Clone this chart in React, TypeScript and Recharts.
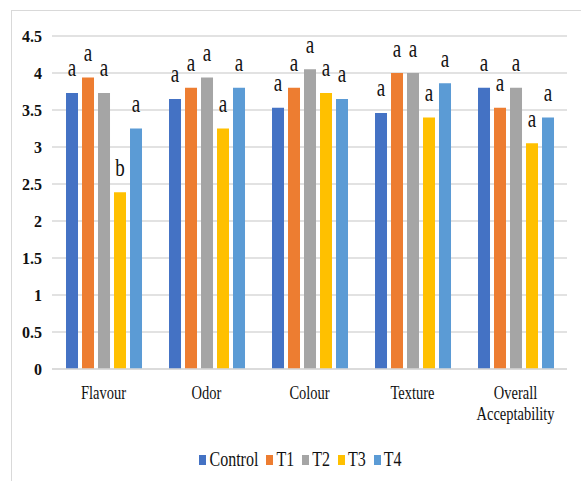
import React from 'react';
import { BarChart, Bar, XAxis, YAxis, CartesianGrid, Legend, LabelList } from 'recharts';

const categories = ['Flavour', 'Odor', 'Colour', 'Texture', 'Overall Acceptability'];
const seriesNames = ['Control', 'T1', 'T2', 'T3', 'T4'];
const seriesColors = ['#4472C4', '#ED7D31', '#A5A5A5', '#FFC000', '#5B9BD5'];

const controlValues = [3.73, 3.65, 3.53, 3.46, 3.80];
const t1Values = [3.94, 3.80, 3.80, 4.00, 3.53];
const t2Values = [3.73, 3.94, 4.05, 4.00, 3.80];
const t3Values = [2.39, 3.25, 3.73, 3.40, 3.05];
const t4Values = [3.25, 3.80, 3.65, 3.86, 3.40];

const controlLetters = ['a', 'a', 'a', 'a', 'a'];
const t1Letters = ['a', 'a', 'a', 'a', 'a'];
const t2Letters = ['a', 'a', 'a', 'a', 'a'];
const t3Letters = ['b', 'a', 'a', 'a', 'a'];
const t4Letters = ['a', 'a', 'a', 'a', 'a'];

const yTicks = [0, 0.5, 1, 1.5, 2, 2.5, 3, 3.5, 4, 4.5];

const allValues = [controlValues, t1Values, t2Values, t3Values, t4Values];
const allLetters = [controlLetters, t1Letters, t2Letters, t3Letters, t4Letters];

const data = categories.map((c, i) => {
  const row: any = { category: c };
  seriesNames.forEach((s, k) => {
    row[s] = allValues[k][i];
    row[s + '_L'] = allLetters[k][i];
  });
  return row;
});

const FONT = "'Liberation Serif', Tinos, 'DejaVu Serif', serif";

const XTick = (props: any) => {
  const { x, payload } = props;
  const label: string = payload.value;
  const lines = label === 'Overall Acceptability' ? ['Overall', 'Acceptability'] : [label];
  return (
    <g>
      {lines.map((ln, i) => (
        <text
          key={i}
          transform={`translate(${x},${399 + i * 21}) scale(1,1.33)`}
          textAnchor="middle"
          style={{ fontFamily: FONT }}
          fontSize={14.5}
          fill="#111"
        >
          {ln}
        </text>
      ))}
    </g>
  );
};

const BarLetter = (props: any) => {
  const { x, y, width, value } = props;
  return (
    <text
      transform={`translate(${x + width / 2},${y - 16.5}) scale(1,1.3)`}
      textAnchor="middle"
      style={{ fontFamily: FONT }}
      fontSize={19}
      fill="#111"
    >
      {value}
    </text>
  );
};

const renderLegend = () => (
  <div
    style={{
      display: 'flex',
      justifyContent: 'center',
      alignItems: 'flex-end',
      height: 40,
      paddingLeft: 22,
      fontFamily: FONT,
      fontSize: 16,
      color: '#111',
      lineHeight: '18px',
      boxSizing: 'border-box',
    }}
  >
    {seriesNames.map((s, i) => (
      <div key={s} style={{ display: 'flex', alignItems: 'center', marginLeft: i === 0 ? 0 : 8 }}>
        <span style={{ display: 'inline-block', width: 7, height: 10, background: seriesColors[i] }} />
        <span style={{ display: 'inline-block', marginLeft: 3, transform: 'scaleY(1.3)' }}>{s}</span>
      </div>
    ))}
  </div>
);

export default function App() {
  return (
    <div style={{ position: 'absolute', left: 0, top: 0, width: 581, height: 481, overflow: 'hidden', background: '#fff', fontFamily: FONT }}>
      <div
        style={{
          position: 'absolute',
          left: 11,
          top: 10,
          width: 620,
          height: 520,
          border: '1px solid #d9d9d9',
        }}
      />
      <BarChart
        width={581}
        height={481}
        data={data}
        margin={{ top: 36, right: 14, left: 12, bottom: 12 }}
        barCategoryGap="13.6%"
        barGap={4}
        style={{ fontFamily: FONT }}
      >
        <CartesianGrid vertical={false} stroke="#d9d9d9" strokeWidth={1.5} />
        <XAxis
          dataKey="category"
          axisLine={{ stroke: '#d9d9d9', strokeWidth: 1.5 }}
          tickLine={false}
          height={60}
          interval={0}
          tick={<XTick />}
        />
        <YAxis
          domain={[0, 4.5]}
          ticks={yTicks}
          axisLine={false}
          tickLine={false}
          width={40}
          tickMargin={4}
          tick={{ fontFamily: FONT, fontSize: 16, fontWeight: 'bold', fill: '#111', style: { fontFamily: FONT } }}
        />
        <Legend verticalAlign="bottom" content={renderLegend} />
        {seriesNames.map((s, i) => (
          <Bar key={s} dataKey={s} fill={seriesColors[i]} isAnimationActive={false}>
            <LabelList dataKey={s + '_L'} content={<BarLetter />} />
          </Bar>
        ))}
      </BarChart>
    </div>
  );
}
